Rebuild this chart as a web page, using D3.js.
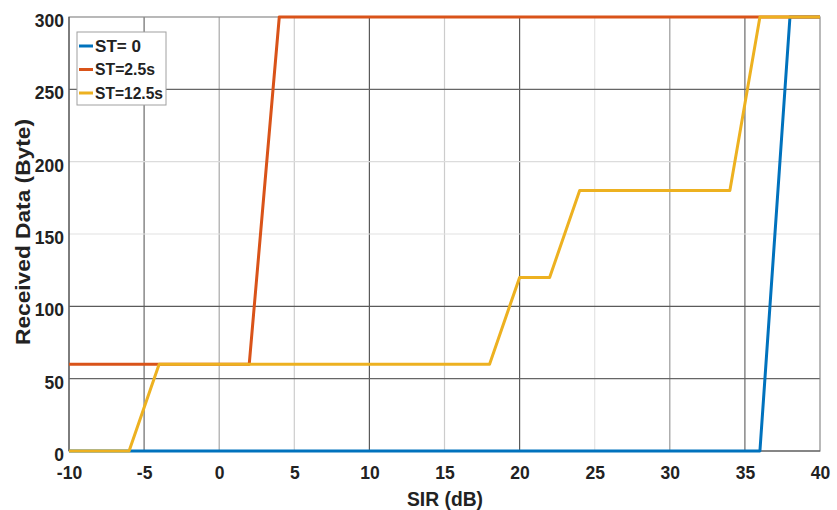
<!DOCTYPE html>
<html>
<head>
<meta charset="utf-8">
<script src="https://cdn.jsdelivr.net/npm/d3@7"></script>
<style>
  html, body { margin: 0; padding: 0; background: #fff; }
  svg text { font-family: "Liberation Sans", Arial, sans-serif; font-weight: bold; fill: #222; }
</style>
</head>
<body>
<svg id="chart" width="837" height="510"></svg>
<script>
// SIR sweep (dB) and received bytes for each start time
const sirST0   = [-10, -6, 36, 38, 40];
const dataST0  = [0, 0, 0, 300, 300];
const sirST25  = [-10, 2, 4, 40];
const dataST25 = [60, 60, 300, 300];
const sirST125  = [-10, -6, -4, 18, 20, 22, 24, 34, 36, 40];
const dataST125 = [0, 0, 60, 60, 120, 120, 180, 180, 300, 300];

const seriesNames = ["ST= 0", "ST=2.5s", "ST=12.5s"];
const xTicks = [-10, -5, 0, 5, 10, 15, 20, 25, 30, 35, 40];
const yTicks = [0, 50, 100, 150, 200, 250, 300];

const colors = ["#0072BD", "#D95319", "#EDB120"];
// grid line shades per tick value
const xGridShade = {"-5": "#6a6a6a", "0": "#a8a8a8", "5": "#cccccc", "10": "#5a5a5a", "15": "#cccccc",
                    "20": "#5a5a5a", "25": "#e4e4e4", "30": "#9a9a9a", "35": "#6a6a6a"};
const yGridShade = {"50": "#666666", "100": "#5a5a5a", "150": "#e2e2e2", "200": "#dcdcdc", "250": "#666666"};

const svg = d3.select("#chart");
const pL = 69, pR = 820, pT = 17, pB = 451;

const x = d3.scaleLinear().domain([-10, 40]).range([pL, pR]);
const y = d3.scaleLinear().domain([0, 300]).range([pB, pT]);

// grid
const grid = svg.append("g");
xTicks.filter(t => t > -10 && t < 40).forEach(t => {
  grid.append("line").attr("x1", x(t)).attr("x2", x(t)).attr("y1", pT).attr("y2", pB)
    .attr("stroke", xGridShade[String(t)]).attr("stroke-width", 1.2);
});
yTicks.filter(t => t > 0 && t < 300).forEach(t => {
  grid.append("line").attr("x1", pL).attr("x2", pR).attr("y1", y(t)).attr("y2", y(t))
    .attr("stroke", yGridShade[String(t)]).attr("stroke-width", 1.2);
});

// frame
svg.append("rect").attr("x", pL).attr("y", pT).attr("width", pR - pL).attr("height", pB - pT)
  .attr("fill", "none").attr("stroke", "#8a8a8a").attr("stroke-width", 1.2);
svg.append("line").attr("x1", pL).attr("x2", pL).attr("y1", pT).attr("y2", pB)
  .attr("stroke", "#555").attr("stroke-width", 1.2);
svg.append("line").attr("x1", pL).attr("x2", pR).attr("y1", pB).attr("y2", pB)
  .attr("stroke", "#555").attr("stroke-width", 1.2);

// axes (labels only; ticks drawn by the grid)
const fmt = d => String(d);
const xAxis = svg.append("g").attr("transform", `translate(0,${pB})`)
  .call(d3.axisBottom(x).tickValues(xTicks).tickSize(0).tickPadding(15).tickFormat(fmt));
const yAxis = svg.append("g").attr("transform", `translate(${pL},0)`)
  .call(d3.axisLeft(y).tickValues(yTicks).tickSize(0).tickPadding(5).tickFormat(fmt));
[xAxis, yAxis].forEach(a => {
  a.select(".domain").remove();
  a.selectAll("text").attr("font-size", 17.5).attr("font-family", null).style("font-weight", "bold").attr("fill", "#222");
});
yAxis.selectAll("text").attr("dy", "0.55em");
xAxis.selectAll("text").attr("dy", "0.75em");

// series
const line = d3.line().x(d => x(d[0])).y(d => y(d[1]));
const series = [
  d3.zip(sirST0, dataST0),
  d3.zip(sirST25, dataST25),
  d3.zip(sirST125, dataST125)
];
series.forEach((pts, i) => {
  svg.append("path").datum(pts).attr("d", line)
    .attr("fill", "none").attr("stroke", colors[i]).attr("stroke-width", 3)
    .attr("stroke-linejoin", "round");
});

// legend
const lg = svg.append("g");
lg.append("rect").attr("x", 77).attr("y", 32).attr("width", 89).attr("height", 73)
  .attr("fill", "#fff").attr("stroke", "#a0a0a0").attr("stroke-width", 1);
seriesNames.forEach((name, i) => {
  const yy = 46 + i * 23.5;
  lg.append("line").attr("x1", 79).attr("x2", 93).attr("y1", yy).attr("y2", yy)
    .attr("stroke", colors[i]).attr("stroke-width", 3);
  lg.append("text").attr("x", 95).attr("y", yy).attr("dy", "0.36em")
    .attr("font-size", 16.5).attr("textLength", name.length > 7 ? 68 : (name.length > 5 ? 60 : 46))
    .attr("lengthAdjust", "spacingAndGlyphs").text(name);
});

// axis titles
svg.append("text").attr("x", 445).attr("y", 506).attr("text-anchor", "middle")
  .attr("font-size", 21).attr("textLength", 76).attr("lengthAdjust", "spacingAndGlyphs").text("SIR (dB)");
svg.append("text").attr("transform", "translate(30,232) rotate(-90)").attr("text-anchor", "middle")
  .attr("font-size", 21).attr("textLength", 226).attr("lengthAdjust", "spacingAndGlyphs").text("Received Data (Byte)");
</script>
</body>
</html>
